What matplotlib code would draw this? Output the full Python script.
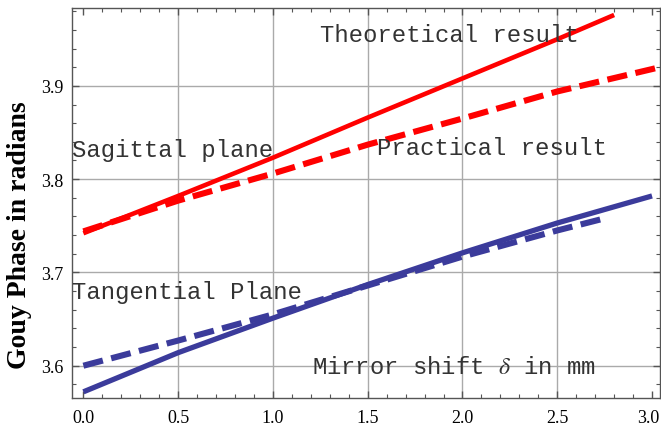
import matplotlib
matplotlib.use("Agg")
import matplotlib.pyplot as plt
import matplotlib.transforms as mtransforms
from matplotlib.ticker import MultipleLocator

# Data
x_theo_sag = [0.0, 0.5, 1.0, 1.5, 2.0, 2.5, 2.8]
theo_sag = [3.742, 3.782, 3.823, 3.866, 3.908, 3.950, 3.976]

x_prac_sag = [0.0, 0.5, 1.0, 1.5, 2.0, 2.5, 3.0, 3.04]
prac_sag = [3.744, 3.777, 3.806, 3.837, 3.865, 3.894, 3.918, 3.920]

x_theo_tan = [0.0, 0.5, 1.0, 1.5, 2.0, 2.5, 3.0]
theo_tan = [3.572, 3.614, 3.651, 3.687, 3.721, 3.753, 3.782]

x_prac_tan = [0.0, 0.5, 1.0, 1.5, 2.0, 2.5, 2.77]
prac_tan = [3.600, 3.627, 3.655, 3.686, 3.717, 3.745, 3.759]

x_ticks = [0.0, 0.5, 1.0, 1.5, 2.0, 2.5, 3.0]
y_ticks = [3.6, 3.7, 3.8, 3.9]

RED = "#ff0000"
BLUE = "#3b3b9b"
FRAME = "#555555"

plt.rcParams['mathtext.fontset'] = 'stix'

fig = plt.figure(figsize=(6.61, 4.27), dpi=100)
ax = fig.add_axes([72/661, 1-399/427, (660-72)/661, (399-8.7)/427])

ax.set_xlim(-0.06, 3.042)
ax.set_ylim(3.5654, 3.9838)

# grid lines (only interior majors)
for gx in [0.5, 1.0, 1.5, 2.0, 2.5]:
    ax.axvline(gx, color="#aaaaaa", lw=1.0, zorder=0)
for gy in y_ticks:
    ax.axhline(gy, color="#aaaaaa", lw=1.0, zorder=0)

ax.plot(x_theo_sag, theo_sag, color=RED, lw=3.3, solid_capstyle='butt', solid_joinstyle='round', zorder=3)
ax.plot(x_prac_sag, prac_sag, color=RED, lw=4.4, dashes=(3.3, 1.4), dash_capstyle='butt', zorder=3)
ax.plot(x_theo_tan, theo_tan, color=BLUE, lw=3.8, solid_capstyle='butt', solid_joinstyle='round', zorder=3)
ax.plot(x_prac_tan, prac_tan, color=BLUE, lw=4.4, dashes=(3.3, 1.4), dash_capstyle='butt', zorder=3)

ax.set_xticks(x_ticks)
ax.set_xticklabels(["%.1f" % v for v in x_ticks])
ax.set_yticks(y_ticks)
ax.set_yticklabels(["%.1f" % v for v in y_ticks])
ax.xaxis.set_minor_locator(MultipleLocator(0.1))
ax.yaxis.set_minor_locator(MultipleLocator(0.02))
ax.tick_params(which='both', direction='in', top=True, right=True, color=FRAME)
ax.tick_params(which='major', length=5, width=1.0, labelsize=13)
ax.tick_params(axis='x', which='major', pad=8)
ax.tick_params(axis='y', which='major', pad=6)
ax.tick_params(which='minor', length=3, width=0.8)
for lab in ax.get_xticklabels() + ax.get_yticklabels():
    lab.set_family("Liberation Serif")
# keep the last x label inside the canvas
last = ax.get_xticklabels()[-1]
last.set_transform(last.get_transform() + mtransforms.ScaledTranslation(-4/100, 0, fig.dpi_scale_trans))

for s in ax.spines.values():
    s.set_color(FRAME)
    s.set_linewidth(1.0)

ax.set_ylabel("Gouy Phase in radians", family="Liberation Serif", weight="bold",
              fontsize=20)
ax.yaxis.set_label_coords(-40/588, 0.42)

mono = dict(family="Liberation Mono", fontsize=17.2, color="#333333", va="baseline", ha="left", zorder=4)
ax.text(1.248, 3.948, "Theoretical result", **mono)
ax.text(-0.06, 3.825, "Sagittal plane", **mono)
ax.text(1.549, 3.827, "Practical result", **mono)
ax.text(-0.06, 3.6725, "Tangential Plane", **mono)
ax.text(1.206, 3.592, r"Mirror shift $\delta$ in mm", **mono)

fig.savefig("out.png", dpi=100)
